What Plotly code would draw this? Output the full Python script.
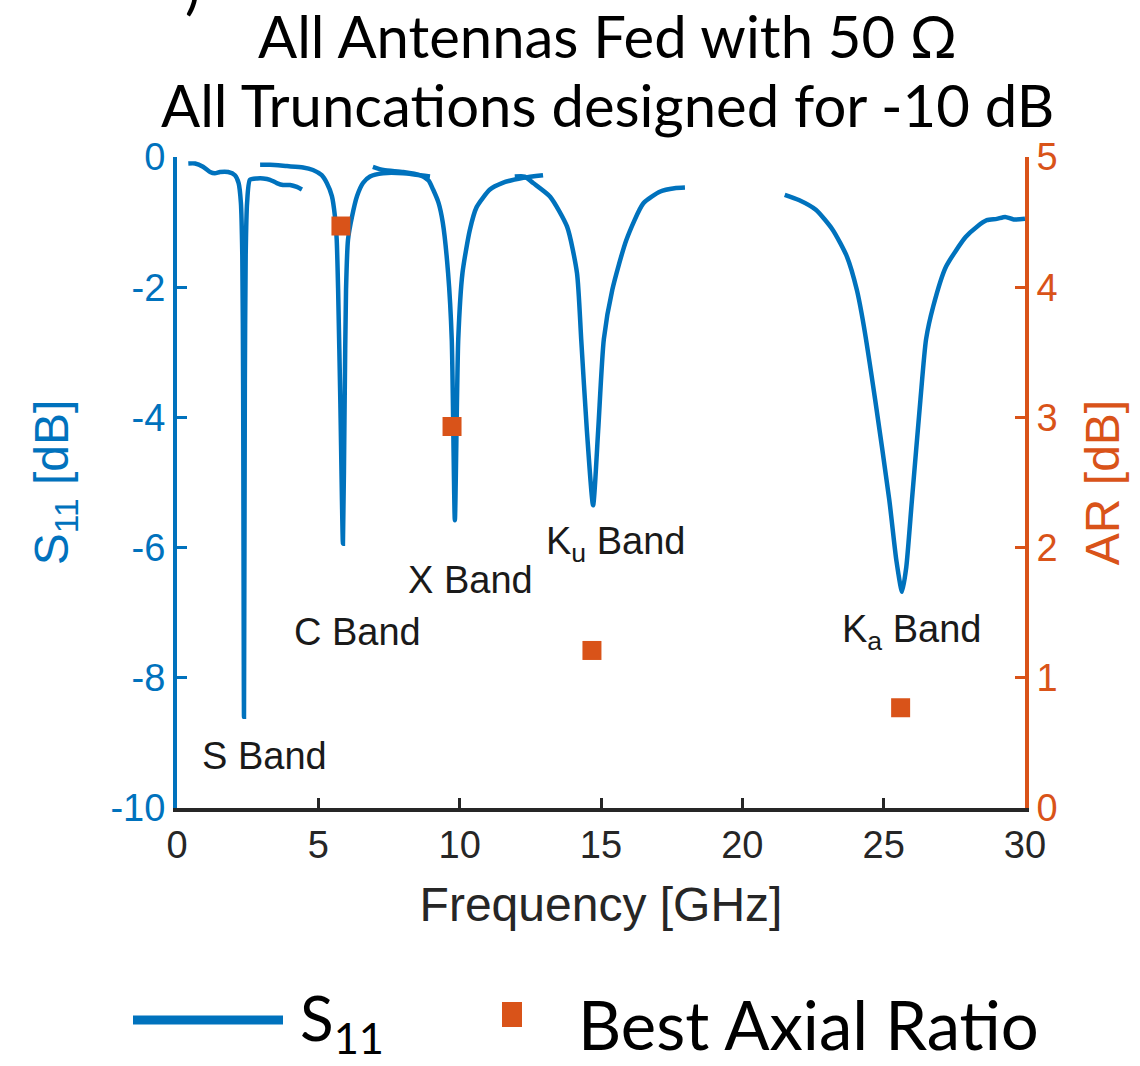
import plotly.graph_objects as go

BLUE = "#0072BD"
ORANGE = "#D95319"
DARK = "#262626"

# ---- S11 data, one sweep per antenna (GHz, dB) ----
s_band_f = [0.40, 0.64, 0.92, 1.17, 1.34, 1.52, 1.81, 2.05, 2.18, 2.26, 2.31, 2.34, 2.37,
            2.40, 2.43, 2.48, 2.58, 2.83, 3.05, 3.29, 3.53, 3.75, 4.00, 4.24, 4.42]
s_band_db = [-0.10, -0.10, -0.15, -0.23, -0.25, -0.23, -0.23, -0.28, -0.40, -0.70, -1.50, -3.50, -8.60,
             -3.50, -1.50, -0.70, -0.35, -0.33, -0.33, -0.35, -0.40, -0.43, -0.43, -0.46, -0.50]

c_band_f = [2.94, 3.29, 3.89, 4.46, 4.81, 5.12, 5.30, 5.48, 5.59, 5.65, 5.70, 5.78, 5.87,
            5.93, 5.98, 6.05, 6.19, 6.37, 6.58, 6.83, 7.29, 8.00, 8.95]
c_band_db = [-0.12, -0.12, -0.14, -0.16, -0.20, -0.28, -0.40, -0.60, -0.92, -1.27, -2.04, -3.80, -5.94,
             -3.80, -2.04, -1.27, -0.92, -0.60, -0.40, -0.30, -0.25, -0.25, -0.30]

x_band_f = [6.93, 7.30, 8.00, 8.60, 8.90, 9.06, 9.25, 9.40, 9.59, 9.72, 9.83,
            9.95, 10.10, 10.36, 10.60, 11.07, 11.50, 12.25, 12.95]
x_band_db = [-0.15, -0.20, -0.23, -0.28, -0.36, -0.50, -0.70, -1.00, -1.78, -2.80, -5.58,
             -2.80, -1.78, -1.12, -0.77, -0.50, -0.40, -0.32, -0.28]

ku_band_f = [11.95, 12.30, 12.60, 13.20, 13.80, 14.15, 14.30, 14.50, 14.72,
             14.90, 15.10, 15.40, 15.90, 16.50, 17.10, 17.60, 17.97]
ku_band_db = [-0.30, -0.30, -0.40, -0.61, -1.07, -1.78, -2.80, -4.20, -5.35,
              -4.20, -2.80, -2.04, -1.27, -0.71, -0.53, -0.48, -0.47]

ka_band_f = [21.50, 22.00, 22.60, 23.20, 23.70, 24.05, 24.30, 24.70, 25.20, 25.45, 25.65,
             25.80, 26.00, 26.30, 26.50, 26.75, 27.20, 27.90, 28.30, 28.65, 29.00, 29.30, 29.60, 30.00]
ka_band_db = [-0.58, -0.66, -0.81, -1.12, -1.53, -2.04, -2.60, -3.73, -5.27, -6.20, -6.68,
              -6.30, -5.27, -3.73, -2.80, -2.30, -1.69, -1.23, -1.07, -0.97, -0.95, -0.92, -0.96, -0.95]

segments = [(s_band_f, s_band_db), (c_band_f, c_band_db), (x_band_f, x_band_db),
            (ku_band_f, ku_band_db), (ka_band_f, ka_band_db)]

# ---- Best axial ratio points ----
ar_f = [5.80, 9.73, 14.68, 25.60]
ar_db = [4.47, 2.93, 1.21, 0.77]

# ---- Band labels ----
band_labels = ["S Band", "C Band", "X Band", "K<sub>u</sub> Band", "K<sub>a</sub> Band"]
label_f = [3.1, 6.4, 10.4, 15.5, 26.0]
label_db = [-9.2, -7.3, -6.5, -5.95, -7.3]

x_ticks = [0, 5, 10, 15, 20, 25, 30]
y_ticks = [0, -2, -4, -6, -8, -10]
y_ticktext = ["0", "-2", "-4", "-6", "-8", "-10"]
y2_ticks = [0, 1, 2, 3, 4, 5]

W, H = 1140, 1066
L, R, T, B = 177, 1025, 157, 808


def xp(px):
    return (px - L) / (R - L)


def yp(py):
    return (B - py) / (B - T)


fig = go.Figure()
for f, d in segments:
    fig.add_trace(go.Scatter(x=f, y=d, mode="lines",
                             line=dict(color=BLUE, width=4.5, shape="spline", smoothing=0.6),
                             showlegend=False, hoverinfo="skip"))

fig.add_trace(go.Scatter(x=ar_f, y=ar_db, mode="markers", yaxis="y2",
                         marker=dict(symbol="square", size=19, color=ORANGE),
                         showlegend=False))

ann = []
for t, f, d in zip(band_labels, label_f, label_db):
    ann.append(dict(x=f, y=d, xref="x", yref="y", text=t, showarrow=False,
                    font=dict(family="Liberation Sans, Arial", size=38, color="#1a1a1a")))

# Titles
ann.append(dict(x=xp(607), y=yp(35), xref="paper", yref="paper", text="All Antennas Fed with 50 Ω",
                yanchor="middle", showarrow=False, font=dict(family="Lato", size=58, color="black")))
ann.append(dict(x=xp(607), y=yp(105), xref="paper", yref="paper", text="All Truncations designed for -10 dB",
                yanchor="middle", showarrow=False, font=dict(family="Lato", size=58, color="black")))
ann.append(dict(x=xp(183), y=yp(-14), xref="paper", yref="paper", text=")",
                yanchor="middle", showarrow=False, font=dict(family="Lato", size=58, color="black")))

# Legend (manual)
ann.append(dict(x=xp(298), y=yp(1021), xref="paper", yref="paper", text="S<sub>11</sub>",
                xanchor="left", yanchor="middle", showarrow=False,
                font=dict(family="Lato", size=62, color="black")))
ann.append(dict(x=xp(576), y=yp(1024), xref="paper", yref="paper", text="Best Axial Ratio",
                xanchor="left", yanchor="middle", showarrow=False,
                font=dict(family="Lato", size=67, color="black")))

shapes = [
    dict(type="line", xref="paper", yref="paper", x0=xp(133), x1=xp(283), y0=yp(1020), y1=yp(1020),
         line=dict(color=BLUE, width=9)),
    dict(type="rect", xref="paper", yref="paper", x0=xp(502), x1=xp(522), y0=yp(1002), y1=yp(1027),
         fillcolor=ORANGE, line=dict(width=0)),
]

fig.update_layout(
    width=W, height=H,
    margin=dict(l=L, r=W - R, t=T, b=H - B),
    paper_bgcolor="white", plot_bgcolor="white",
    showlegend=False,
    xaxis=dict(range=[0, 30], tickvals=x_ticks, ticks="inside", ticklen=10, tickwidth=3,
               tickcolor=DARK, showline=True, linecolor=DARK, linewidth=4, showgrid=False,
               zeroline=False, mirror=False,
               tickfont=dict(family="Liberation Sans, Arial", size=38, color=DARK),
               title=dict(text="Frequency [GHz]", standoff=24,
                          font=dict(family="Liberation Sans, Arial", size=48, color=DARK))),
    yaxis=dict(range=[-10, 0], tickvals=y_ticks, ticktext=y_ticktext, ticks="inside", ticklen=10,
               tickwidth=3, tickcolor=BLUE, showline=True, linecolor=BLUE, linewidth=4, showgrid=False,
               zeroline=False,
               tickfont=dict(family="Liberation Sans, Arial", size=38, color=BLUE),
               title=dict(text="S<sub>11</sub> [dB]", standoff=28,
                          font=dict(family="Liberation Sans, Arial", size=48, color=BLUE))),
    yaxis2=dict(range=[0, 5], tickvals=y2_ticks, overlaying="y", side="right", ticks="inside",
                ticklen=10, tickwidth=3, tickcolor=ORANGE, showline=True, linecolor=ORANGE,
                linewidth=4, showgrid=False, zeroline=False,
                tickfont=dict(family="Liberation Sans, Arial", size=38, color=ORANGE),
                title=dict(text="AR [dB]", standoff=30,
                           font=dict(family="Liberation Sans, Arial", size=48, color=ORANGE))),
    annotations=ann,
    shapes=shapes,
)

fig.write_html("out.html")
